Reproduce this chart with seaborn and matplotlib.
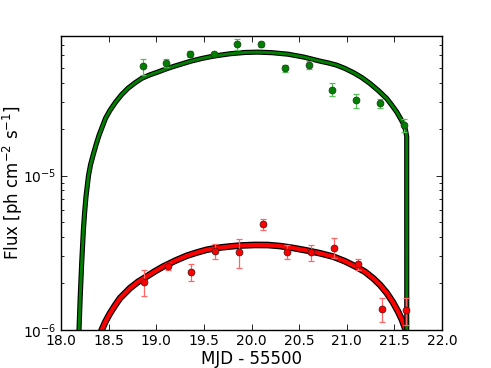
import numpy as np
import pandas as pd
import matplotlib
matplotlib.use("Agg")
import matplotlib.pyplot as plt
import matplotlib.patheffects as pe
from matplotlib.ticker import NullFormatter, LogLocator
import seaborn as sns

# ---- data ----
# model curves (MJD - 55500, flux)
green_curve_t = [18.1837, 18.189, 18.2016, 18.2173, 18.2352, 18.2478, 18.2625, 18.2887,
                 18.3108, 18.336, 18.3675, 18.399, 18.4672, 18.5144, 18.5722, 18.6352,
                 18.7034, 18.7769, 18.8504, 18.9344, 19.0152, 19.1024, 19.1895, 19.3648,
                 19.4803, 19.5958, 19.7743, 19.9318, 20.0682, 20.2152, 20.3832, 20.5512,
                 20.7192, 20.8031, 20.8945, 20.9816, 21.0687, 21.157, 21.2441, 21.3312,
                 21.4194, 21.4719, 21.5244, 21.559, 21.5937, 21.6168, 21.6294, 21.6305]
green_curve_f = [6.38e-7, 1.0e-6, 1.637e-6, 2.723e-6, 4.46e-6, 5.75e-6, 7.31e-6, 1.0e-5,
                 1.179e-5, 1.348e-5, 1.578e-5, 1.82e-5, 2.345e-5, 2.643e-5, 2.979e-5, 3.331e-5,
                 3.672e-5, 3.98e-5, 4.265e-5, 4.487e-5, 4.672e-5, 4.894e-5, 5.10e-5, 5.50e-5,
                 5.726e-5, 5.92e-5, 6.14e-5, 6.26e-5, 6.29e-5, 6.24e-5, 6.10e-5, 5.84e-5,
                 5.50e-5, 5.36e-5, 5.18e-5, 4.93e-5, 4.64e-5, 4.31e-5, 3.94e-5, 3.55e-5,
                 3.15e-5, 2.86e-5, 2.58e-5, 2.37e-5, 2.17e-5, 1.97e-5, 1.79e-5, 1e-7]

red_curve_t = [18.3885, 18.4273, 18.4672, 18.5144, 18.5669, 18.6194, 18.7244, 18.8084,
               18.8997, 18.9869, 19.074, 19.1969, 19.3197, 19.4247, 19.5297, 19.6483,
               19.7743, 19.9003, 20.0367, 20.1732, 20.2992, 20.4357, 20.5795, 20.7192,
               20.8588, 20.9816, 21.1045, 21.1916, 21.2787, 21.3491, 21.4194, 21.4856,
               21.5381, 21.5801, 21.6189, 21.6325]
red_curve_f = [7.99e-7, 1.0e-6, 1.135e-6, 1.283e-6, 1.442e-6, 1.606e-6, 1.866e-6, 2.049e-6,
               2.219e-6, 2.401e-6, 2.576e-6, 2.805e-6, 3.023e-6, 3.171e-6, 3.307e-6, 3.407e-6,
               3.474e-6, 3.527e-6, 3.553e-6, 3.548e-6, 3.495e-6, 3.397e-6, 3.272e-6, 3.139e-6,
               2.983e-6, 2.786e-6, 2.554e-6, 2.38e-6, 2.157e-6, 1.96e-6, 1.739e-6, 1.509e-6,
               1.318e-6, 1.162e-6, 1.0e-6, 8.0e-7]

# measured points
green_t = [18.86, 19.10, 19.35, 19.61, 19.85, 20.10, 20.35, 20.60, 20.85, 21.10, 21.35, 21.60]
green_f = [5.08e-5, 5.36e-5, 6.11e-5, 6.11e-5, 7.06e-5, 7.06e-5, 4.93e-5, 5.23e-5,
           3.60e-5, 3.07e-5, 2.94e-5, 2.11e-5]
green_err = [0.59e-5, 0.34e-5, 0.25e-5, 0.1e-5, 0.56e-5, 0.30e-5, 0.27e-5, 0.32e-5,
             0.35e-5, 0.32e-5, 0.20e-5, 0.20e-5]

red_t = [18.875, 19.12, 19.37, 19.62, 19.87, 20.12, 20.37, 20.62, 20.87, 21.12, 21.37, 21.62]
red_f = [2.06e-6, 2.58e-6, 2.37e-6, 3.24e-6, 3.20e-6, 4.83e-6, 3.21e-6, 3.18e-6,
         3.42e-6, 2.67e-6, 1.37e-6, 1.35e-6]
red_err = [0.40e-6, 0.12e-6, 0.30e-6, 0.36e-6, 0.69e-6, 0.42e-6, 0.33e-6, 0.38e-6,
           0.50e-6, 0.23e-6, 0.24e-6, 0.27e-6]

x_ticks = [18.0, 18.5, 19.0, 19.5, 20.0, 20.5, 21.0, 21.5, 22.0]

# ---- style ----
sns.set_theme(style="ticks")
plt.rcParams.update({
    "font.family": ["DejaVu Sans"],
    "mathtext.default": "regular",
    "xtick.direction": "in", "ytick.direction": "in",
    "xtick.top": True, "ytick.right": True,
    "xtick.major.size": 4, "ytick.major.size": 4,
    "ytick.minor.size": 2, "xtick.minor.size": 2,
    "xtick.major.width": 0.6, "ytick.major.width": 0.6,
    "ytick.minor.width": 0.6,
    "axes.edgecolor": "black", "axes.linewidth": 1.0,
    "xtick.color": "black", "ytick.color": "black",
    "axes.labelcolor": "black",
    "lines.solid_joinstyle": "round",
})

fig = plt.figure(figsize=(4.91, 3.68), dpi=100)
ax = fig.add_axes([61 / 491, 38 / 368, 381 / 491, 294 / 368])

gdf = pd.DataFrame({"t": green_curve_t, "f": green_curve_f})
rdf = pd.DataFrame({"t": red_curve_t, "f": red_curve_f})

sns.lineplot(data=rdf, x="t", y="f", ax=ax, color="red", lw=3.0, sort=False,
             path_effects=[pe.Stroke(linewidth=4.8, foreground="black"), pe.Normal()],
             zorder=2)
sns.lineplot(data=gdf, x="t", y="f", ax=ax, color="green", lw=2.1, sort=False,
             path_effects=[pe.Stroke(linewidth=3.7, foreground="black"), pe.Normal()],
             zorder=2)

ax.errorbar(green_t, green_f, yerr=green_err, fmt="none", ecolor=(0.35, 0.75, 0.35),
            elinewidth=0.9, capsize=2, capthick=0.9, zorder=3)
ax.errorbar(red_t, red_f, yerr=red_err, fmt="none", ecolor=(1.0, 0.4, 0.4),
            elinewidth=0.9, capsize=2, capthick=0.9, zorder=3)

sns.scatterplot(x=green_t, y=green_f, ax=ax, color="green", s=24,
                edgecolor=(0.1, 0.25, 0.1), linewidth=0.6, zorder=4)
sns.scatterplot(x=red_t, y=red_f, ax=ax, color="red", s=24,
                edgecolor=(0.3, 0.1, 0.1), linewidth=0.6, zorder=4)

ax.set_yscale("log")
ax.set_xlim(18.0, 22.0)
ax.set_ylim(1e-6, 8e-5)
ax.set_xticks(x_ticks)
ax.set_xticklabels([f"{v:.1f}" for v in x_ticks])
ax.yaxis.set_minor_locator(LogLocator(base=10, subs=np.arange(2, 10)))
ax.yaxis.set_minor_formatter(NullFormatter())
ax.tick_params(axis="both", which="major", labelsize=10, pad=3)

ax.set_xlabel("MJD - 55500", fontsize=12, labelpad=1)
ax.set_ylabel("Flux [ph cm$^{-2}$ s$^{-1}$]", fontsize=12)
ax.yaxis.set_label_coords(-0.094, 0.5)

fig.savefig("out.png", dpi=100)
